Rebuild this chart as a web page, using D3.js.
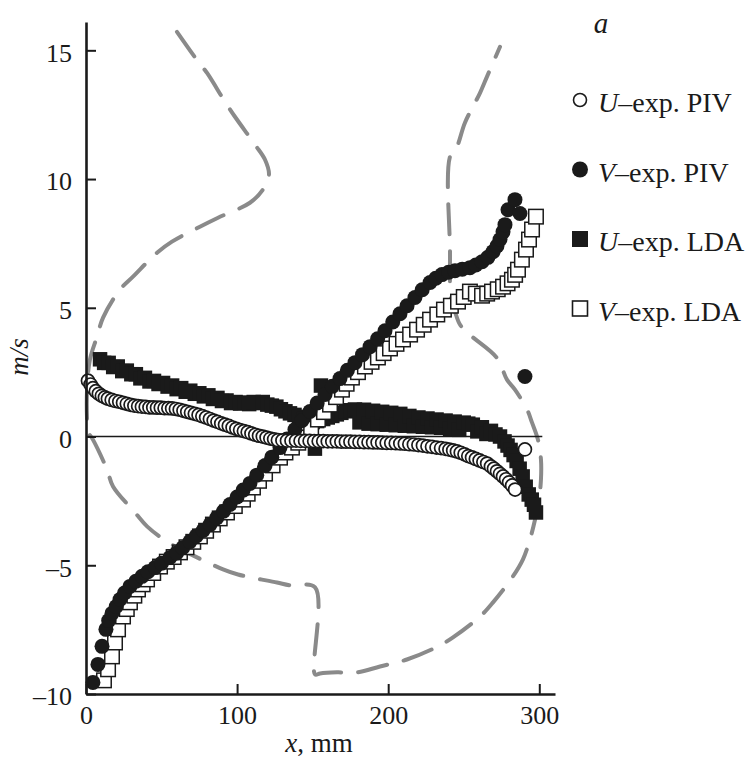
<!DOCTYPE html>
<html><head><meta charset="utf-8">
<script src="https://cdn.jsdelivr.net/npm/d3@7"></script>
<style>
html,body{margin:0;padding:0;background:#fff;}
svg text{font-family:"Liberation Serif","Times New Roman",serif !important;fill:#1a1a1a;}
</style></head>
<body>
<svg id="chart" width="749" height="758"></svg>
<script>
// ---------------- data (x in mm, velocity in m/s) ----------------
const xTicks = [0, 100, 200, 300];
const yTicks = [-10, -5, 0, 5, 10, 15];

const uPIV = [[1.3,2.17],[3,2.02],[4.6,1.88],[6.5,1.76],[8.5,1.66],[10.5,1.58],[12.5,1.52],[14.5,1.47],[17,1.42],[19.5,1.38],[22,1.35],[24.5,1.31],[27,1.27],[29.5,1.23],[32,1.20],[34.5,1.18],[37,1.16],[39.5,1.15],[42,1.13],[44.5,1.13],[47,1.12],[49.5,1.12],[52,1.10],[54.5,1.10],[57,1.09],[59.5,1.07],[62,1.04],[64.5,1.00],[67,0.96],[69.5,0.92],[72,0.88],[74.5,0.84],[77,0.79],[79.5,0.74],[82,0.68],[84.5,0.62],[87,0.57],[89.5,0.51],[92,0.46],[94.5,0.41],[97,0.35],[99.5,0.30],[102,0.25],[104.5,0.21],[107,0.17],[109.5,0.12],[112,0.07],[114.5,0.03],[117,0.00],[119.5,-0.04],[122,-0.08],[124.5,-0.11],[127,-0.14],[130,-0.15],[133,-0.16],[136,-0.16],[139,-0.16],[142,-0.17],[145,-0.17],[148,-0.17],[151,-0.18],[154,-0.18],[157,-0.18],[160,-0.19],[163,-0.19],[166,-0.19],[169,-0.20],[172,-0.20],[175,-0.20],[178,-0.21],[181,-0.21],[184,-0.22],[187,-0.22],[190,-0.23],[193,-0.23],[196,-0.24],[199,-0.25],[202,-0.25],[205,-0.26],[208,-0.27],[211,-0.28],[214,-0.30],[217,-0.31],[220,-0.33],[223,-0.35],[226,-0.38],[229,-0.40],[232,-0.43],[235,-0.45],[238,-0.48],[240.5,-0.51],[243,-0.54],[245.5,-0.58],[248,-0.63],[250.5,-0.69],[253,-0.76],[255.5,-0.81],[258,-0.87],[260.5,-0.93],[263,-0.99],[265.5,-1.05],[268,-1.16],[270,-1.25],[272,-1.35],[274,-1.45],[276,-1.55],[278,-1.66],[280,-1.78],[282,-1.90],[284,-2.06],[290.5,-0.50]];

const vPIV = [[4.6,-9.55],[7.9,-8.85],[10.6,-8.15],[13.2,-7.49],[15,-7.15],[17.2,-6.87],[20,-6.6],[22.5,-6.33],[25.5,-6.08],[29.1,-5.82],[33,-5.62],[37.1,-5.43],[41,-5.25],[45.7,-5.09],[50,-4.92],[55.6,-4.70],[60,-4.52],[64,-4.32],[68.8,-4.08],[73,-3.86],[77.5,-3.65],[82.1,-3.42],[86.5,-3.16],[91,-2.90],[95.3,-2.64],[100,-2.35],[104,-2.08],[108.5,-1.82],[113,-1.50],[118.5,-1.13],[123,-0.80],[128.4,-0.43],[133,-0.10],[138.3,0.27],[143,0.62],[148.2,0.97],[153,1.30],[158.2,1.63],[163,1.95],[168.1,2.25],[173,2.57],[178,2.87],[183,3.18],[188,3.49],[193,3.80],[197.9,4.11],[203,4.45],[207.8,4.77],[212.5,5.08],[217.7,5.40],[222.5,5.70],[227.7,5.98],[231.5,6.15],[235.6,6.29],[240,6.38],[244.2,6.44],[249,6.50],[254.1,6.56],[258,6.66],[262.1,6.79],[266,6.96],[269.4,7.18],[272,7.40],[274,7.65],[276,7.95],[277.3,8.23],[279.3,8.81],[283.9,9.20],[287.2,8.66],[290.5,2.33]];

const uLDA = [[9.3,3.0],[12,2.86],[15,2.86],[18,2.70],[21,2.72],[24,2.54],[27,2.56],[30,2.42],[33,2.42],[36,2.26],[39,2.28],[42,2.14],[45,2.16],[48,2.04],[51,2.08],[54,1.94],[57,1.98],[60,1.84],[63,1.88],[66,1.74],[69,1.78],[72,1.66],[75,1.68],[78,1.56],[81,1.60],[84,1.46],[87,1.50],[90,1.38],[93,1.40],[96,1.30],[99,1.34],[102,1.28],[105,1.32],[108,1.26],[111,1.34],[114,1.30],[117,1.34],[120,1.24],[123,1.20],[126,1.16],[129,1.06],[132,0.98],[135,0.90],[138,0.84],[141,0.76],[144,0.70],[147,0.62],[150,0.56],[151.5,-0.47],[153,0.60],[155.5,1.98],[157,0.68],[160,0.74],[163,0.80],[166,0.86],[169,0.92],[172,0.98],[175,1.02],[178,1.05],[181,0.55],[184,1.04],[187,0.50],[190,1.00],[193,0.48],[196,0.96],[199,0.46],[202,0.92],[205,0.44],[208,0.88],[211,0.42],[214,0.80],[217,0.40],[220,0.74],[223,0.38],[226,0.70],[229,0.36],[232,0.66],[235,0.34],[238,0.62],[241,0.30],[244,0.58],[247,0.26],[250,0.54],[253,0.50],[256,0.46],[259,0.20],[262,0.36],[265,0.10],[268,0.22],[271,0.08],[274,0.00],[277,-0.19],[279,-0.35],[281,-0.52],[283,-0.72],[285,-0.95],[287,-1.25],[289,-1.55],[291,-1.95],[293,-2.25],[295,-2.45],[296.5,-2.65],[297.8,-2.95]];

const vLDA = [[11.9,-9.47],[14.6,-9.04],[17.2,-8.54],[19.2,-8.00],[21.2,-7.49],[24.5,-6.99],[27,-6.70],[29.1,-6.44],[32,-6.18],[34.4,-5.94],[37.5,-5.74],[40.4,-5.55],[44.5,-5.30],[49,-5.05],[53.5,-4.86],[58,-4.68],[62.2,-4.50],[66.5,-4.30],[71,-4.09],[75.4,-3.88],[79.5,-3.66],[84,-3.42],[88.5,-3.18],[93.3,-2.95],[98.5,-2.70],[103.9,-2.45],[107,-2.22],[110.5,-1.98],[114.5,-1.72],[118.5,-1.44],[123.5,-1.12],[128.4,-0.82],[132,-0.62],[136.3,-0.43],[140.5,-0.24],[144.9,-0.04],[149,0.30],[153.5,0.66],[157.5,0.95],[161.5,1.24],[165.5,1.53],[169.4,1.82],[172.5,2.05],[176,2.29],[180,2.50],[184.6,2.72],[189,2.90],[193.2,3.07],[197,3.24],[201.2,3.42],[205.5,3.60],[209.8,3.77],[214.5,3.96],[219.1,4.15],[223.5,4.34],[227.7,4.54],[232.5,4.74],[236.9,4.93],[241.5,5.08],[246.2,5.24],[250,5.42],[254.1,5.63],[258,5.55],[262.1,5.47],[265.5,5.55],[268.7,5.63],[272.5,5.72],[276.0,5.82],[279,5.95],[281.9,6.09],[284,6.28],[285.9,6.48],[288.5,6.87],[291.2,7.26],[293.2,7.65],[295.2,8.04],[297.8,8.54]];

// gray dashed reference profile
const profile = [[60.2,15.72],[73.5,14.62],[80.1,14.12],[92.0,13.00],[98.6,12.42],[111.8,11.34],[118.5,10.75],[121.1,10.17],[117.1,9.59],[108.5,9.08],[87.4,8.50],[75.4,8.15],[56.9,7.57],[47.0,7.14],[31.1,6.21],[22.5,5.71],[11.3,4.62],[7.3,3.88],[2.6,2.99],[0.7,1.82],[0.7,0.66],[1.3,0.19],[4.6,-0.12],[13.9,-1.28],[17.9,-1.94],[32.4,-2.95],[40.4,-3.49],[54.3,-4.11],[66.8,-4.50],[90.7,-5.16],[100.6,-5.36],[126.4,-5.67],[135.0,-5.78],[151.6,-5.86],[151.6,-9.24],[154.9,-9.20],[166.1,-9.16],[179.4,-9.16],[194.6,-8.93],[212.4,-8.66],[233.0,-8.15],[242.9,-7.80],[260.8,-6.99],[269.4,-6.44],[282.6,-5.43],[289.2,-4.77],[293.8,-4.00],[297.2,-3.22],[299.8,-2.45],[301.1,-1.67],[301.1,-0.89],[299.1,-0.12],[295.2,0.54],[291.9,1.05],[283.9,1.82],[278.6,2.21],[272.0,3.05],[254.1,3.95],[247.5,4.35],[244.2,4.85],[241.6,5.32],[240.9,7.26],[240.9,10.87],[245.5,11.26],[250.8,12.19],[260.8,13.35],[265.4,13.98],[274.0,15.14]];

const legendItems = [
  {sym:"openCircle", v:"U", rest:"\u2013exp. PIV"},
  {sym:"filledCircle", v:"V", rest:"\u2013exp. PIV"},
  {sym:"filledSquare", v:"U", rest:"\u2013exp. LDA"},
  {sym:"openSquare", v:"V", rest:"\u2013exp. LDA"}
];

// ---------------- drawing ----------------
const svg = d3.select("#chart");
svg.append("rect").attr("width",749).attr("height",758).attr("fill","#fff");

const x = d3.scaleLinear().domain([0, 310.4]).range([86, 555]);
const y = d3.scaleLinear().domain([-10, 16.1]).range([694, 22]);
const ink = "#1a1a1a";
const serif = "Liberation Serif";

// dashed profile
svg.append("path").datum(profile)
  .attr("d", d3.line().x(d=>x(d[0])).y(d=>y(d[1])).curve(d3.curveCatmullRom.alpha(0.5)))
  .attr("fill","none").attr("stroke","#8a8a8a").attr("stroke-width",4)
  .attr("stroke-dasharray","30,17").attr("stroke-linecap","round");

// zero line
svg.append("line").attr("x1",x(0)).attr("x2",x(302)).attr("y1",y(0)).attr("y2",y(0))
  .attr("stroke",ink).attr("stroke-width",1.6);

const S = 14.5;
// U-LDA filled squares
svg.append("g").selectAll("rect").data(uLDA).join("rect")
  .attr("x",d=>x(d[0])-S/2).attr("y",d=>y(d[1])-S/2).attr("width",S).attr("height",S)
  .attr("fill",ink);
// V-LDA open squares
svg.append("g").selectAll("rect").data(vLDA).join("rect")
  .attr("x",d=>x(d[0])-S/2).attr("y",d=>y(d[1])-S/2).attr("width",S).attr("height",S)
  .attr("fill","#fff").attr("stroke",ink).attr("stroke-width",1.5);
// V-PIV filled circles
svg.append("g").selectAll("circle").data(vPIV).join("circle")
  .attr("cx",d=>x(d[0])).attr("cy",d=>y(d[1])).attr("r",7.5).attr("fill",ink);
// U-PIV open circles
svg.append("g").selectAll("circle").data(uPIV).join("circle")
  .attr("cx",d=>x(d[0])).attr("cy",d=>y(d[1])).attr("r",6.5)
  .attr("fill","#fff").attr("stroke",ink).attr("stroke-width",1.7);

// axes
const fmt = d => d < 0 ? "\u2013" + Math.abs(d) : String(d);
const gy = svg.append("g").attr("transform",`translate(${x(0)},0)`)
  .call(d3.axisLeft(y).tickValues(yTicks).tickSizeInner(-10).tickSizeOuter(0).tickPadding(14).tickFormat(fmt));
const gx = svg.append("g").attr("transform",`translate(0,${y(-10)})`)
  .call(d3.axisBottom(x).tickValues(xTicks).tickSizeInner(-10).tickSizeOuter(0).tickPadding(11).tickFormat(fmt));
[gy,gx].forEach(g=>{
  g.attr("font-family", null).attr("font-size", null);
  g.select(".domain").attr("stroke",ink).attr("stroke-width",2.6);
  g.selectAll(".tick line").attr("stroke",ink).attr("stroke-width",2);
  g.selectAll(".tick text").attr("font-size",26).attr("fill",ink).attr("font-family",serif);
});
gy.selectAll(".tick text").attr("dy","0.42em");
gx.selectAll(".tick text").attr("dy","0.72em");

// axis titles
const xt = svg.append("text").attr("x",319).attr("y",752).attr("text-anchor","middle").attr("font-size",27);
xt.append("tspan").attr("font-style","italic").text("x");
xt.append("tspan").text(", mm");
svg.append("text").attr("transform","translate(28,357) rotate(-90)")
  .attr("text-anchor","middle").attr("font-size",27).attr("font-style","italic").text("m/s");

// panel label
svg.append("text").attr("x",601).attr("y",33).attr("text-anchor","middle")
  .attr("font-size",29).attr("font-style","italic").text("a");

// legend
const lg = svg.append("g");
legendItems.forEach((it,i)=>{
  const cy = 100 + i*69.5, mx = 580;
  if (it.sym==="openCircle") lg.append("circle").attr("cx",mx).attr("cy",cy).attr("r",6.5).attr("fill","#fff").attr("stroke",ink).attr("stroke-width",1.6);
  if (it.sym==="filledCircle") lg.append("circle").attr("cx",mx).attr("cy",cy).attr("r",8).attr("fill",ink);
  if (it.sym==="filledSquare") lg.append("rect").attr("x",mx-8).attr("y",cy-8).attr("width",16).attr("height",16).attr("fill",ink);
  if (it.sym==="openSquare") lg.append("rect").attr("x",mx-7.5).attr("y",cy-7.5).attr("width",15).attr("height",15).attr("fill","#fff").attr("stroke",ink).attr("stroke-width",1.6);
  const t = lg.append("text").attr("x",598).attr("y",cy+12).attr("font-size",28);
  t.append("tspan").attr("font-style","italic").text(it.v);
  t.append("tspan").text(it.rest);
});
</script>
</body></html>
